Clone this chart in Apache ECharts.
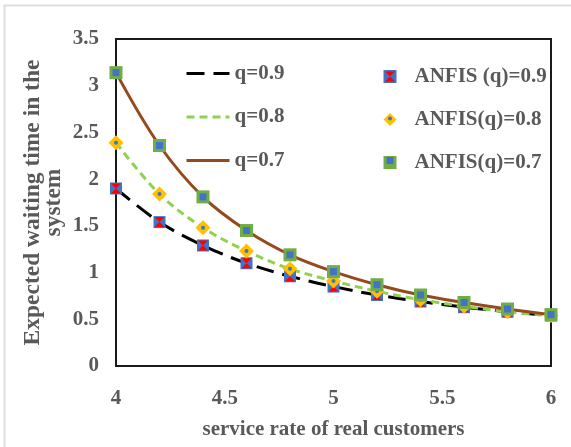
<!DOCTYPE html>
<html>
<head>
<meta charset="utf-8">
<script src="https://cdn.jsdelivr.net/npm/echarts@6/dist/echarts.min.js"></script>
<style>
  html, body { margin: 0; padding: 0; background: #fff; }
  #chart { width: 571px; height: 447px; }
</style>
</head>
<body>
<div id="chart"></div>
<script>
// Service rate of real customers (x values)
const serviceRates = [4, 4.2, 4.4, 4.6, 4.8, 5.0, 5.2, 5.4, 5.6, 5.8, 6.0];

// Expected waiting time in the system for each q
const waitQ09 = [1.90, 1.54, 1.29, 1.10, 0.96, 0.85, 0.76, 0.69, 0.63, 0.58, 0.54];
const waitQ08 = [2.39, 1.84, 1.48, 1.23, 1.04, 0.91, 0.80, 0.71, 0.64, 0.58, 0.54];
const waitQ07 = [3.14, 2.36, 1.81, 1.45, 1.19, 1.01, 0.87, 0.76, 0.68, 0.61, 0.55];

// ANFIS estimates
const anfisQ09 = [1.90, 1.54, 1.29, 1.10, 0.96, 0.85, 0.76, 0.69, 0.63, 0.58, 0.54];
const anfisQ08 = [2.39, 1.84, 1.48, 1.23, 1.04, 0.91, 0.80, 0.71, 0.64, 0.58, 0.54];
const anfisQ07 = [3.14, 2.36, 1.81, 1.45, 1.19, 1.01, 0.87, 0.76, 0.68, 0.61, 0.55];

// Axis ticks
const xTicks = { min: 4, max: 6, step: 0.5 };
const yTicks = { min: 0, max: 3.5, step: 0.5 };

const pairs = ys => serviceRates.map((x, i) => [x, ys[i]]);

const FONT = "'Liberation Serif', 'Times New Roman', serif";
const TXT = '#595959';
const HOURGLASS = 'path://M0,0 L10,0 L5,5 L10,10 L0,10 L5,5 Z';

const lineSeries = (name, data, color, type) => ({
  name, type: 'line', data: pairs(data), smooth: 0.35, symbol: 'none',
  clip: false, z: 2,
  itemStyle: { color },
  lineStyle: { color, width: 3, type }
});

const markSeries = (name, data, symbol, size, color, z) => ({
  name, type: 'scatter', data: pairs(data), symbol, symbolSize: size,
  clip: false, z,
  itemStyle: { color, opacity: 1 }
});

const legendText = { fontFamily: FONT, fontWeight: 'bold', fontSize: 21, color: TXT, lineHeight: 20 };
const hiddenText = Object.assign({}, legendText, { color: 'rgba(0,0,0,0)' });

const markRows = [66, 108, 150];

const option = {
  backgroundColor: '#fff',
  animation: false,
  graphic: [{
    type: 'rect', silent: true,
    shape: { x: 4.5, y: 5.5, width: 620, height: 500 },
    style: { fill: 'none', stroke: '#dedede', lineWidth: 2 }
  }],
  grid: {
    left: 116, right: 20, top: 39, bottom: 81,
    show: true, borderColor: '#1a1a1a', borderWidth: 2, backgroundColor: 'transparent'
  },
  legend: [
    {
      data: ['q=0.9', 'q=0.8', 'q=0.7'],
      orient: 'vertical', left: 185, top: 63, padding: 0,
      itemWidth: 43, itemHeight: 14, itemGap: 22.5, selectedMode: false,
      itemStyle: { opacity: 0 },
      lineStyle: { width: 3 },
      textStyle: legendText
    },
    {
      data: ['ANFIS (q)=0.9', 'ANFIS(q)=0.8', 'ANFIS(q)=0.7'],
      orient: 'vertical', left: 383.5, top: markRows[0], padding: 0,
      itemWidth: 13, itemHeight: 13, itemGap: 22, selectedMode: false,
      textStyle: Object.assign({}, legendText, { padding: [0, 0, 0, 13] })
    },
    {
      data: ['anfis09Inner'], orient: 'vertical', left: 385, top: markRows[0], padding: 0,
      itemWidth: 10, itemHeight: 10, selectedMode: false, textStyle: hiddenText
    },
    {
      data: ['anfis08Inner'], orient: 'vertical', left: 388, top: markRows[1], padding: 0,
      itemWidth: 4, itemHeight: 4, selectedMode: false, textStyle: hiddenText
    },
    {
      data: ['anfis07Inner'], orient: 'vertical', left: 386.5, top: markRows[2], padding: 0,
      itemWidth: 7, itemHeight: 7, selectedMode: false, textStyle: hiddenText
    }
  ],
  xAxis: {
    type: 'value', min: xTicks.min, max: xTicks.max, interval: xTicks.step,
    name: 'service rate of real customers', nameLocation: 'middle', nameGap: 53,
    nameTextStyle: { fontFamily: FONT, fontWeight: 'bold', fontSize: 21, color: TXT },
    axisLine: { show: false }, axisTick: { show: false }, splitLine: { show: false },
    axisLabel: { fontFamily: FONT, fontWeight: 'bold', fontSize: 21, color: TXT, margin: 22 }
  },
  yAxis: {
    type: 'value', min: yTicks.min, max: yTicks.max, interval: yTicks.step,
    name: 'Expected waiting time in the\nsystem', nameLocation: 'middle', nameGap: 52,
    nameMoveOverlap: false,
    nameTextStyle: { fontFamily: FONT, fontWeight: 'bold', fontSize: 23.5, color: TXT, lineHeight: 21 },
    axisLine: { show: false }, axisTick: { show: false }, splitLine: { show: false },
    axisLabel: { fontFamily: FONT, fontWeight: 'bold', fontSize: 21, color: TXT, margin: 17 }
  },
  series: [
    lineSeries('q=0.9', waitQ09, '#000000', [18, 9]),
    lineSeries('q=0.8', waitQ08, '#92D050', [8, 5]),
    lineSeries('q=0.7', waitQ07, '#944A1E', 'solid'),
    markSeries('ANFIS (q)=0.9', anfisQ09, 'rect', 12, '#4472C4', 5),
    markSeries('anfis09Inner', anfisQ09, HOURGLASS, 10, '#FF0000', 6),
    markSeries('ANFIS(q)=0.8', anfisQ08, 'diamond', 15, '#FFC000', 7),
    markSeries('anfis08Inner', anfisQ08, 'circle', 4, '#4472C4', 8),
    markSeries('ANFIS(q)=0.7', anfisQ07, 'rect', 13, '#70AD47', 9),
    markSeries('anfis07Inner', anfisQ07, 'rect', 7, '#4472C4', 10)
  ]
};

const chart = echarts.init(document.getElementById('chart'), null, { renderer: 'canvas' });
chart.setOption(option);
</script>
</body>
</html>
